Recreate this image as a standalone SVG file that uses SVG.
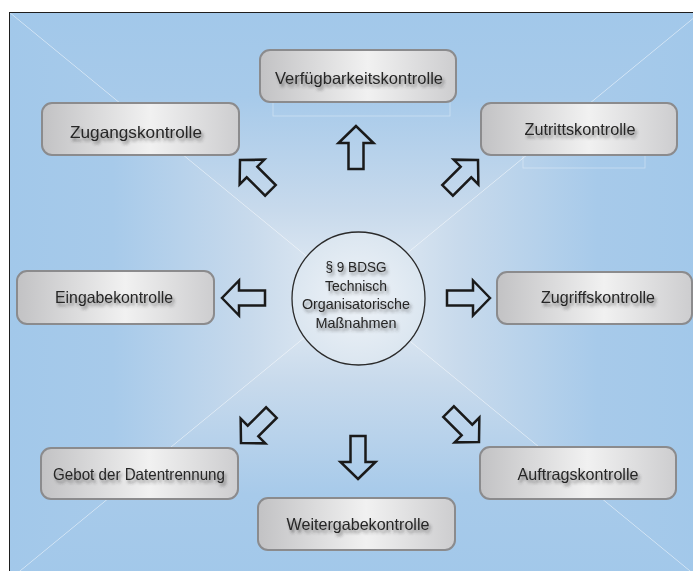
<svg xmlns="http://www.w3.org/2000/svg" width="693" height="571" viewBox="0 0 693 571">
<defs>
<linearGradient id="gTop" gradientUnits="userSpaceOnUse" x1="0" y1="12" x2="0" y2="296">
<stop offset="0" stop-color="#a2c8ea"/><stop offset="0.3" stop-color="#a7caea"/><stop offset="0.7" stop-color="#c8daec"/><stop offset="1" stop-color="#e6edf4"/>
</linearGradient>
<linearGradient id="gBot" gradientUnits="userSpaceOnUse" x1="0" y1="580" x2="0" y2="296">
<stop offset="0" stop-color="#a2c8ea"/><stop offset="0.3" stop-color="#a7caea"/><stop offset="0.7" stop-color="#c8daec"/><stop offset="1" stop-color="#e6edf4"/>
</linearGradient>
<linearGradient id="gLeft" gradientUnits="userSpaceOnUse" x1="9" y1="0" x2="355" y2="0">
<stop offset="0" stop-color="#a2c8ea"/><stop offset="0.3" stop-color="#a7caea"/><stop offset="0.7" stop-color="#c8daec"/><stop offset="1" stop-color="#e6edf4"/>
</linearGradient>
<linearGradient id="gRight" gradientUnits="userSpaceOnUse" x1="701" y1="0" x2="355" y2="0">
<stop offset="0" stop-color="#a2c8ea"/><stop offset="0.3" stop-color="#a7caea"/><stop offset="0.7" stop-color="#c8daec"/><stop offset="1" stop-color="#e6edf4"/>
</linearGradient>
<linearGradient id="gBox" x1="0" y1="0" x2="1" y2="0">
<stop offset="0" stop-color="#c2c2c4"/><stop offset="0.55" stop-color="#f1f1f1"/><stop offset="1" stop-color="#cdcdcf"/>
</linearGradient>
<radialGradient id="gCirc" cx="0.5" cy="0.5" r="0.5">
<stop offset="0" stop-color="#eff3f8"/><stop offset="1" stop-color="#dbe6f0"/>
</radialGradient>
<filter id="tshadow" x="-10%" y="-40%" width="125%" height="200%">
<feGaussianBlur in="SourceAlpha" stdDeviation="1.4"/>
<feOffset dx="2" dy="3" result="b"/>
<feFlood flood-color="#333" flood-opacity="0.55"/>
<feComposite in2="b" operator="in" result="s"/>
<feMerge><feMergeNode in="s"/><feMergeNode in="SourceGraphic"/></feMerge>
</filter>
<path id="arr" d="M0,0 L-17,-17.5 L-17,-7.5 L-43,-7.5 L-43,7.5 L-17,7.5 L-17,17.5 Z"/>
</defs>
<style>
.box{fill:url(#gBox);stroke:#8b8b8d;stroke-width:2}
.lbl{font-family:"Liberation Sans",Arial,sans-serif;font-size:16.5px;fill:#262626;text-anchor:middle;filter:url(#tshadow)}
.ctr{font-family:"Liberation Sans",Arial,sans-serif;font-size:14.5px;fill:#262626;text-anchor:middle;filter:url(#tshadow)}
.arrow{fill:none;stroke:#1a1a1a;stroke-width:2.5;stroke-linejoin:miter}
.seam{stroke:#ffffff;stroke-opacity:0.4;stroke-width:0.8;fill:none}
</style>
<rect x="0" y="0" width="693" height="571" fill="#ffffff"/>
<g id="background">
<polygon points="9,12 701,12 355,296" fill="url(#gTop)"/>
<polygon points="9,580 701,580 355,296" fill="url(#gBot)"/>
<polygon points="9,12 9,580 355,296" fill="url(#gLeft)"/>
<polygon points="701,12 701,580 355,296" fill="url(#gRight)"/>
<line class="seam" x1="9" y1="12" x2="355" y2="296"/>
<line class="seam" x1="701" y1="12" x2="355" y2="296"/>
<line class="seam" x1="9" y1="580" x2="355" y2="296"/>
<line class="seam" x1="701" y1="580" x2="355" y2="296"/>
<rect x="273" y="68" width="177" height="48" class="seam"/>
<rect x="523" y="110" width="122" height="58" class="seam"/>
<rect x="9.5" y="12.5" width="700" height="580" fill="none" stroke="#1e1e1e" stroke-width="1"/>
</g>
<g id="connectors">
<use href="#arr" class="arrow" transform="translate(356,126) rotate(-90)"/>
<use href="#arr" class="arrow" transform="translate(358,479) rotate(90)"/>
<use href="#arr" class="arrow" transform="translate(222,298) rotate(180)"/>
<use href="#arr" class="arrow" transform="translate(490,298)"/>
<use href="#arr" class="arrow" transform="translate(240,160) rotate(-135)"/>
<use href="#arr" class="arrow" transform="translate(478,160) rotate(-45)"/>
<use href="#arr" class="arrow" transform="translate(241,443) rotate(135)"/>
<use href="#arr" class="arrow" transform="translate(479,442) rotate(45)"/>
</g>
<g id="center">
<circle cx="358.5" cy="298.5" r="66.5" fill="url(#gCirc)" stroke="#2a2a2a" stroke-width="1.3"/>
<text class="ctr" x="356" y="272" textLength="61" lengthAdjust="spacingAndGlyphs">§ 9 BDSG</text>
<text class="ctr" x="356" y="290.5" textLength="62" lengthAdjust="spacingAndGlyphs">Technisch</text>
<text class="ctr" x="356" y="309" textLength="108" lengthAdjust="spacingAndGlyphs">Organisatorische</text>
<text class="ctr" x="356" y="327.5" textLength="81" lengthAdjust="spacingAndGlyphs">Maßnahmen</text>
</g>
<g id="verfuegbarkeit">
<rect class="box" x="260" y="50" width="196" height="52" rx="10"/>
<text class="lbl" x="359" y="84" textLength="168" lengthAdjust="spacingAndGlyphs">Verfügbarkeitskontrolle</text>
</g>
<g id="zugang">
<rect class="box" x="42" y="103" width="197" height="52" rx="10"/>
<text class="lbl" x="136" y="138" textLength="132" lengthAdjust="spacingAndGlyphs">Zugangskontrolle</text>
</g>
<g id="zutritt">
<rect class="box" x="481" y="103" width="196" height="52" rx="10"/>
<text class="lbl" x="580" y="135" textLength="111" lengthAdjust="spacingAndGlyphs">Zutrittskontrolle</text>
</g>
<g id="eingabe">
<rect class="box" x="17" y="271" width="197" height="53" rx="10"/>
<text class="lbl" x="114" y="303" textLength="118" lengthAdjust="spacingAndGlyphs">Eingabekontrolle</text>
</g>
<g id="zugriff">
<rect class="box" x="497" y="272" width="195" height="52" rx="10"/>
<text class="lbl" x="598" y="303" textLength="114" lengthAdjust="spacingAndGlyphs">Zugriffskontrolle</text>
</g>
<g id="datentrennung">
<rect class="box" x="41" y="448" width="197" height="51" rx="10"/>
<text class="lbl" x="139" y="480" textLength="172" lengthAdjust="spacingAndGlyphs">Gebot der Datentrennung</text>
</g>
<g id="weitergabe">
<rect class="box" x="258" y="498" width="197" height="52" rx="10"/>
<text class="lbl" x="358" y="530" textLength="143" lengthAdjust="spacingAndGlyphs">Weitergabekontrolle</text>
</g>
<g id="auftrag">
<rect class="box" x="480" y="447" width="196" height="52" rx="10"/>
<text class="lbl" x="578" y="480" textLength="121" lengthAdjust="spacingAndGlyphs">Auftragskontrolle</text>
</g>
</svg>
